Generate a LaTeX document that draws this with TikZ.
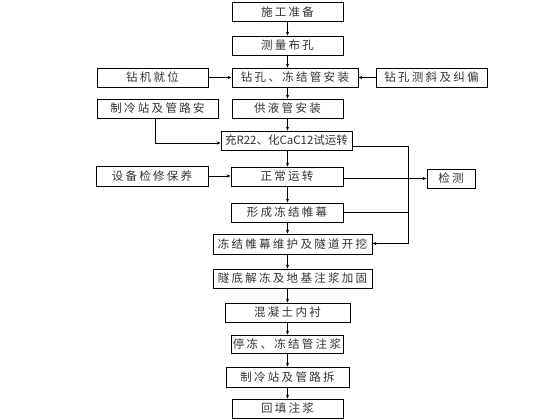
\documentclass[tikz,border=0pt]{standalone}
\usepackage{fontspec}
\setmainfont{Noto Sans CJK SC}
\newfontfamily\cjkwide[LetterSpace=20]{Noto Sans CJK SC}
\usetikzlibrary{arrows.meta}
\tikzset{
  box/.style={draw=black, line width=0.8pt, inner sep=0pt, minimum width=111, minimum height=19, font=\cjkwide\fontsize{11.5}{12}\selectfont, text=black!80},
  arr/.style={draw=black, line width=0.7pt, -{Stealth[length=4pt,width=3.2pt]}},
  ln/.style={draw=black, line width=0.7pt}
}
\begin{document}
\begin{tikzpicture}[x=1pt,y=-1pt]
\useasboundingbox[fill=white] (0,0) rectangle (560,420);
\node[box] (a) at (287.5,12) {施工准备};
\node[box] (b) at (287.5,45.5) {测量布孔};
\node[box, minimum width=126] (c) at (295,77.5) {钻孔、冻结管安装};
\node[box] (d) at (152.5,77.5) {钻机就位};
\node[box] (e) at (431.5,77.5) {钻孔测斜及纠偏};
\node[box] (f) at (287.5,108.5) {供液管安装};
\node[box, minimum width=121] (g) at (157.5,108.5) {制冷站及管路安};
\node[box, minimum width=131, font=\fontsize{11.5}{12}\selectfont] (h) at (286.5,140.5) {充R22、化CaC12试运转};
\node[box, minimum width=112] (i) at (287,176.5) {正常运转};
\node[box, minimum width=112, minimum height=20] (j) at (152,176) {设备检修保养};
\node[box, minimum width=48] (k) at (451,178.5) {检测};
\node[box, minimum width=112] (l) at (287,212.5) {形成冻结帷幕};
\node[box, minimum width=159, minimum height=20] (m) at (292.5,244) {冻结帷幕维护及隧道开挖};
\node[box, minimum width=159] (n) at (292.5,278.5) {隧底解冻及地基注浆加固};
\node[box, minimum width=125] (o) at (287.5,312.5) {混凝土内衬};
\node[box, minimum width=112, minimum height=18] (p) at (287,344) {停冻、冻结管注浆};
\node[box, minimum width=123, minimum height=20] (q) at (287.5,377) {制冷站及管路拆};
\node[box] (r) at (287.5,408.5) {回填注浆};
\coordinate (cx) at (287.5,0);
\draw[arr] (a.south) -- (b.north);
\draw[arr] (b.south) -- (b.south |- c.north);
\draw[arr] (b.south |- c.south) -- (f.north);
\draw[arr] (f.south) -- (f.south |- h.north);
\draw[arr] (f.south |- h.south) -- (f.south |- i.north);
\draw[arr] (f.south |- i.south) -- (f.south |- l.north);
\draw[arr] (f.south |- l.south) -- (f.south |- m.north);
\draw[arr] (f.south |- m.south) -- (f.south |- n.north);
\draw[arr] (f.south |- n.south) -- (o.north);
\draw[arr] (o.south) -- (o.south |- p.north);
\draw[arr] (o.south |- p.south) -- (q.north);
\draw[arr] (q.south) -- (r.north);
\draw[arr] (d.east) -- (c.west |- d.east);
\draw[arr] (e.west) -- (c.east |- e.west);
\coordinate (g1) at (155,143);
\draw[arr] (g.south -| g1) -- (g1) -- (h.west |- g1);
\draw[arr] (j.east) -- (i.west |- j.east);
\draw[arr] (k.west -| i.east) -- (k.west);
\coordinate (v1) at (408,146);
\coordinate (v2) at (408,243.5);
\draw[ln] (h.east |- v1) -- (v1) -- (v2);
\draw[arr] (v2) -- (m.east |- v2);
\draw[ln] (l.east) -- (l.east -| v1);
\end{tikzpicture}
\end{document}
